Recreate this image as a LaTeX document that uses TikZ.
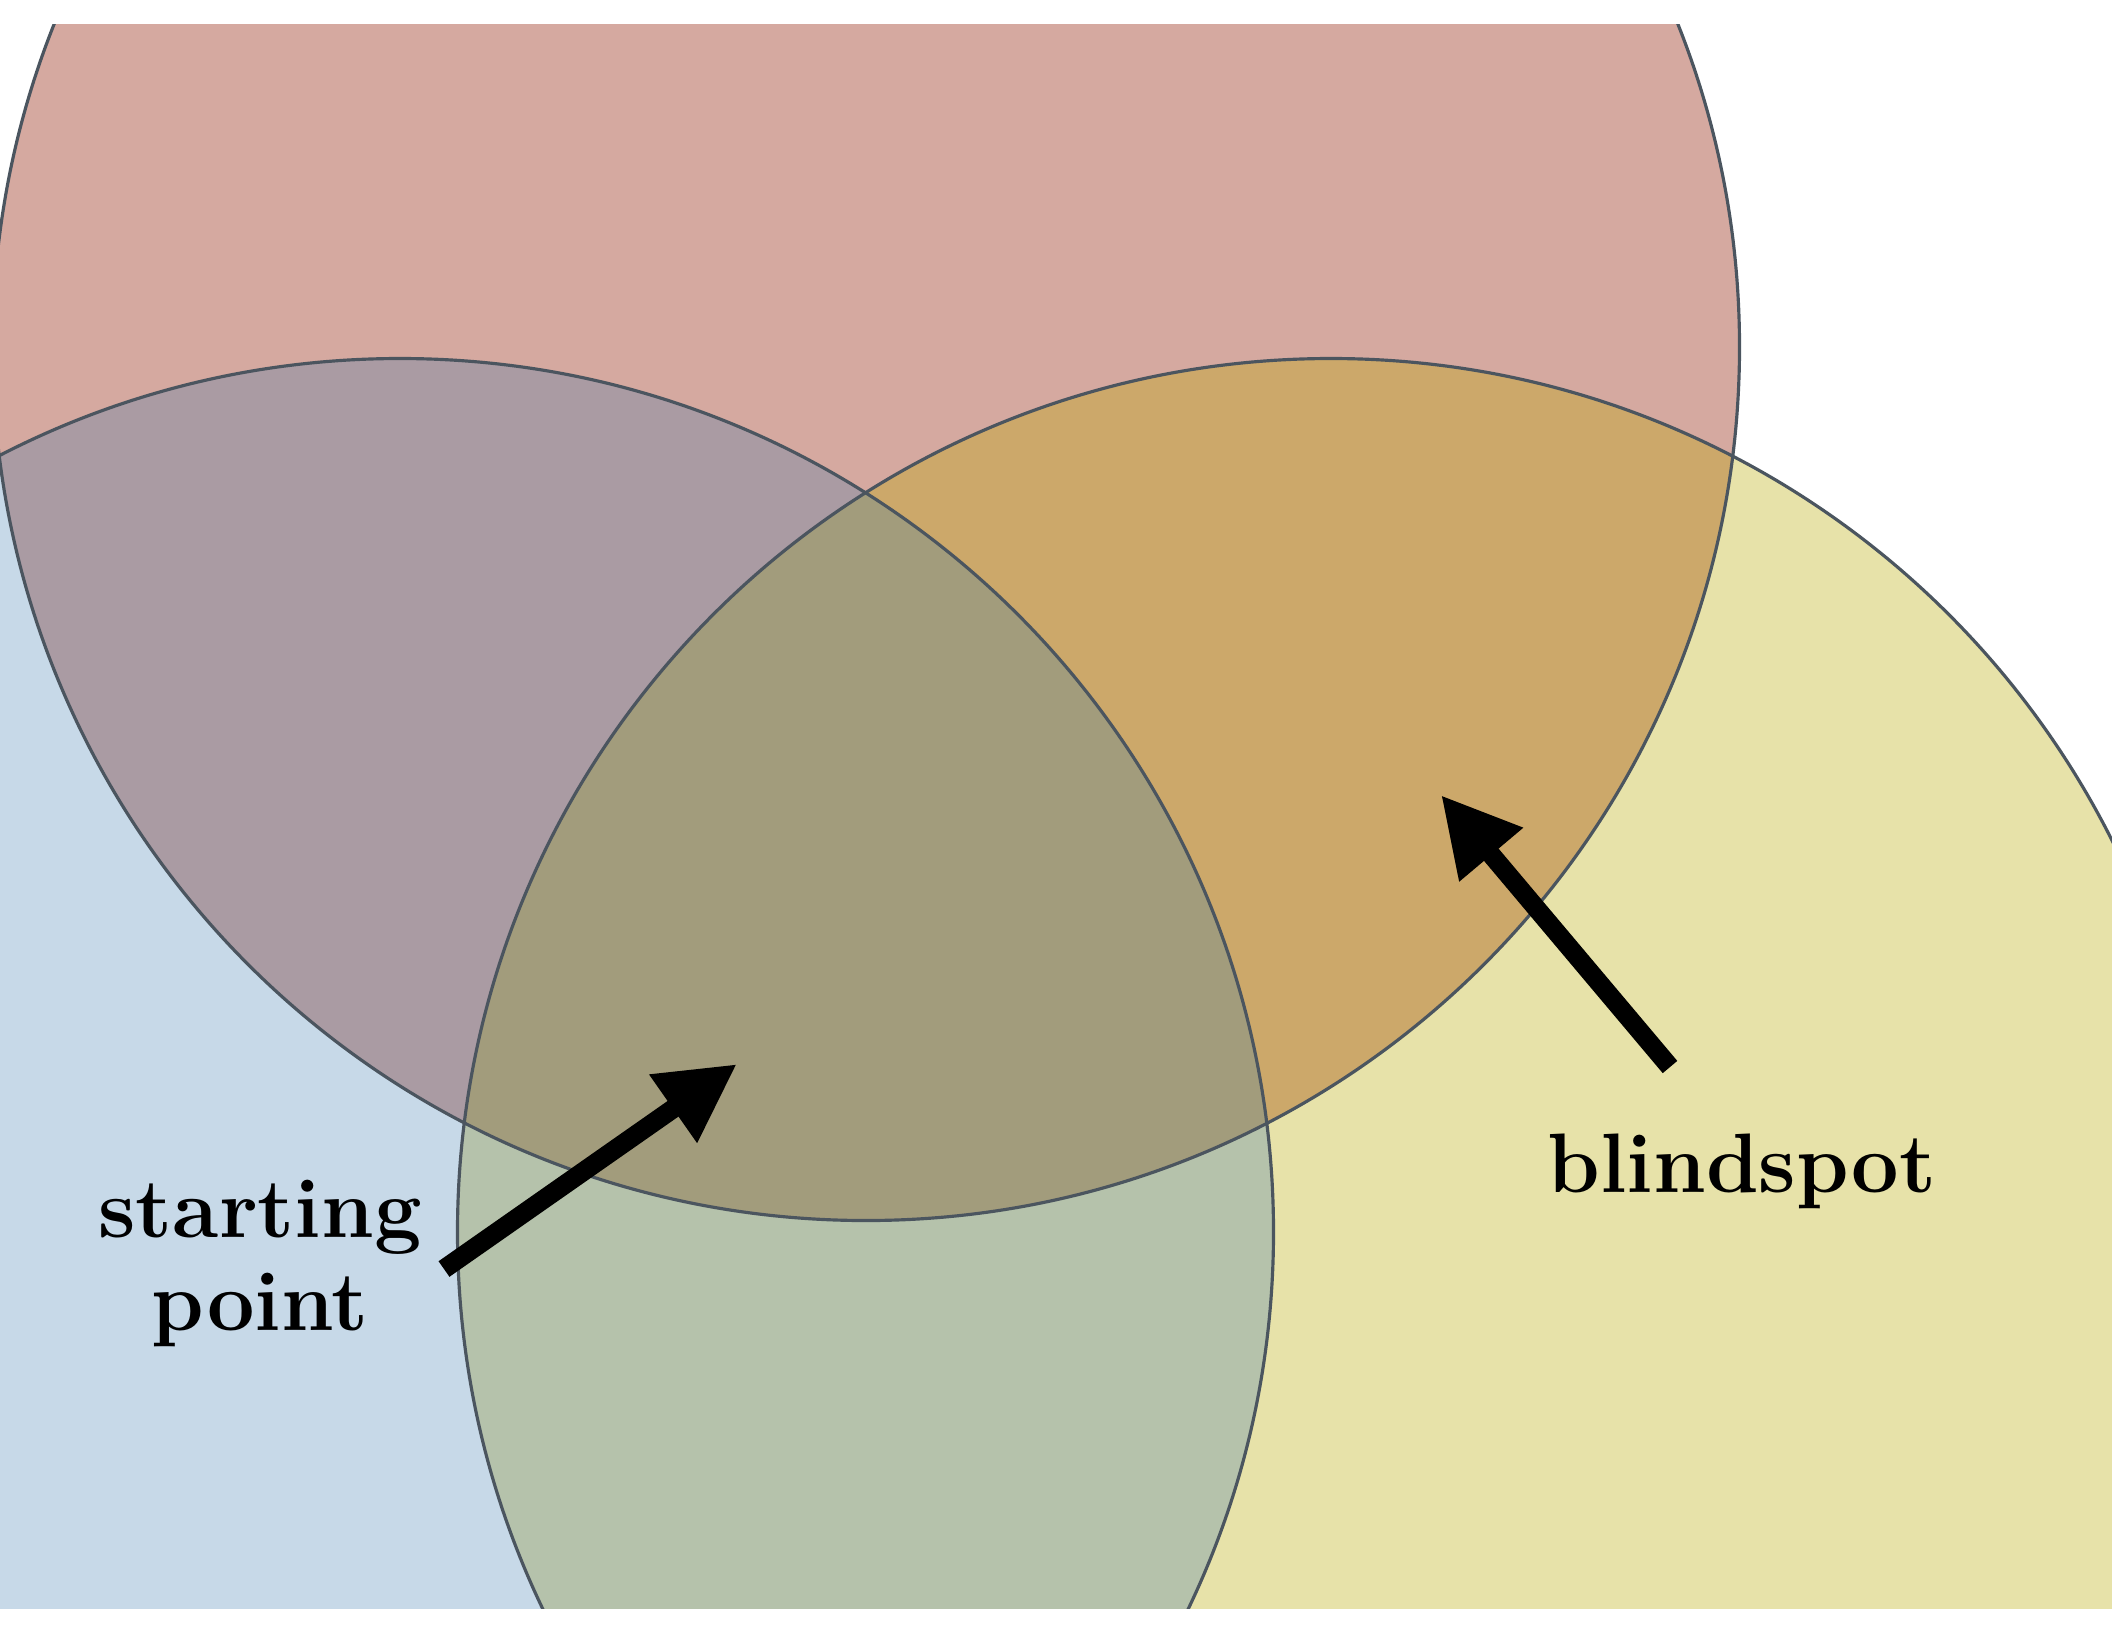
\documentclass[tikz,border=0pt]{standalone}
\usetikzlibrary{arrows.meta}
\definecolor{cR}{HTML}{D5A9A0}
\definecolor{cB}{HTML}{C7D9E8}
\definecolor{cY}{HTML}{E7E2A9}
\definecolor{cRB}{HTML}{AA9BA3}
\definecolor{cRY}{HTML}{CCA86A}
\definecolor{cBY}{HTML}{B5C2AB}
\definecolor{cRBY}{HTML}{A29C7C}
\definecolor{cLine}{HTML}{4B555F}
\tikzset{
  ring/.style={draw=cLine, line width=0.9pt},
  bigarrow/.style={line width=0.19cm, -{Triangle[length=0.78cm,width=0.78cm]}},
  lbl/.style={font=\fontsize{24}{29}\selectfont\bfseries, inner sep=0pt, anchor=base}
}
\begin{document}
\begin{tikzpicture}[x=0.01cm,y=-0.01cm]
\useasboundingbox (0,0) rectangle (2112,1632);
\coordinate (R) at (866,347);
\coordinate (B) at (400,1232);
\coordinate (Y) at (1331,1232);
\def\rad{8.73cm}
\begin{scope}
  \clip (0,24) rectangle (2112,1608);
  \fill[cB] (B) circle[radius=\rad];
  \fill[cY] (Y) circle[radius=\rad];
  \fill[cR] (R) circle[radius=\rad];
  \begin{scope}
    \clip (B) circle[radius=\rad];
    \fill[cBY] (Y) circle[radius=\rad];
  \end{scope}
  \begin{scope}
    \clip (B) circle[radius=\rad];
    \fill[cRB] (R) circle[radius=\rad];
  \end{scope}
  \begin{scope}
    \clip (Y) circle[radius=\rad];
    \fill[cRY] (R) circle[radius=\rad];
  \end{scope}
  \begin{scope}
    \clip (B) circle[radius=\rad];
    \clip (Y) circle[radius=\rad];
    \fill[cRBY] (R) circle[radius=\rad];
  \end{scope}
  \draw[ring] (R) circle[radius=\rad];
  \draw[ring] (B) circle[radius=\rad];
  \draw[ring] (Y) circle[radius=\rad];
\end{scope}
\coordinate (s1) at (444,1269);
\coordinate (t1) at (737,1064);
\coordinate (s2) at (1670,1067);
\coordinate (t2) at (1441,795);
\draw[bigarrow] (s1) -- (t1);
\draw[bigarrow] (s2) -- (t2);
\node[lbl] (sp1) at (260,1237) {starting};
\node[lbl] (sp2) at (260,1330) {point};
\node[lbl] (bs) at (1742,1192) {blindspot};
\end{tikzpicture}
\end{document}
